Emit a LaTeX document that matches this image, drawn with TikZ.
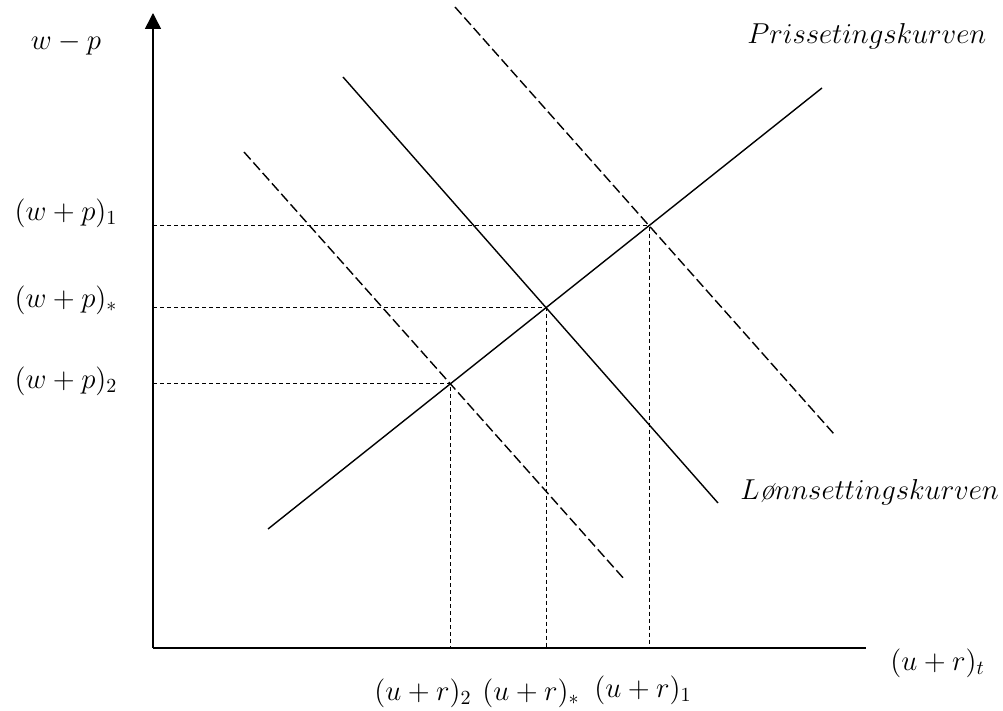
\documentclass[tikz,border=0pt]{standalone}
\usepackage{amsmath}
\usepackage{tikz}
\usetikzlibrary{arrows.meta,intersections}

\begin{document}
\begin{tikzpicture}[x=0.5pt,y=-0.5pt,>=Stealth,
    every node/.style={font=\fontsize{14}{17}\selectfont,inner sep=1pt},
    kurve/.style={font=\fontsize{15}{18}\selectfont,anchor=west},
    axis/.style={line width=0.75pt},
    curve/.style={line width=0.7pt},
    shifted/.style={curve,dash pattern=on 5pt off 2pt},
    guide/.style={line width=0.5pt,dash pattern=on 2pt off 1.5pt}]
    \useasboundingbox (0,0) rectangle (1003,711);
    % axes
    \coordinate (O) at (153,648);
    \coordinate (ytop) at (153,13);
    \coordinate (xend) at (866,648);
    \draw[axis,-{Triangle[width=8pt,length=8pt]}] (O)--(ytop);
    \draw[axis] (O)--(xend);
    % price setting and wage setting curves
    \draw[curve,name path=ps] (268,529)--(822,88);
    \draw[curve,name path=ws] (343,77)--(718,503);
    \draw[shifted,name path=wsone] (455,7)--(834,434);
    \draw[shifted,name path=wstwo] (244,152)--(625,580);
    \path[name intersections={of=ps and ws,by=Es}];
    \path[name intersections={of=ps and wsone,by=E1}];
    \path[name intersections={of=ps and wstwo,by=E2}];
    \foreach \e in {E1,Es,E2}
      \draw[guide] (O |- \e)--(\e)--(\e |- O);
    % labels
    \node (wp) at (66,44) {$w-p$};
    \node (wp1) at (66,213) {$(w+p)_1$};
    \node (wps) at (66,300) {$(w+p)_*$};
    \node (wp2) at (66,381) {$(w+p)_2$};
    \node[anchor=west] (urt) at (888,663) {$(u+r)_t$};
    \node (ur2) at (423,693) {$(u+r)_2$};
    \node (urs) at (531,693) {$(u+r)_*$};
    \node (ur1) at (643,690) {$(u+r)_1$};
    \node[kurve] (pskurve) at (745,36) {$Prissetingskurven$};
    \node[kurve] (wskurve) at (738,492) {$L\textit{ø}nnsettingskurven$};
\end{tikzpicture}
\end{document}
